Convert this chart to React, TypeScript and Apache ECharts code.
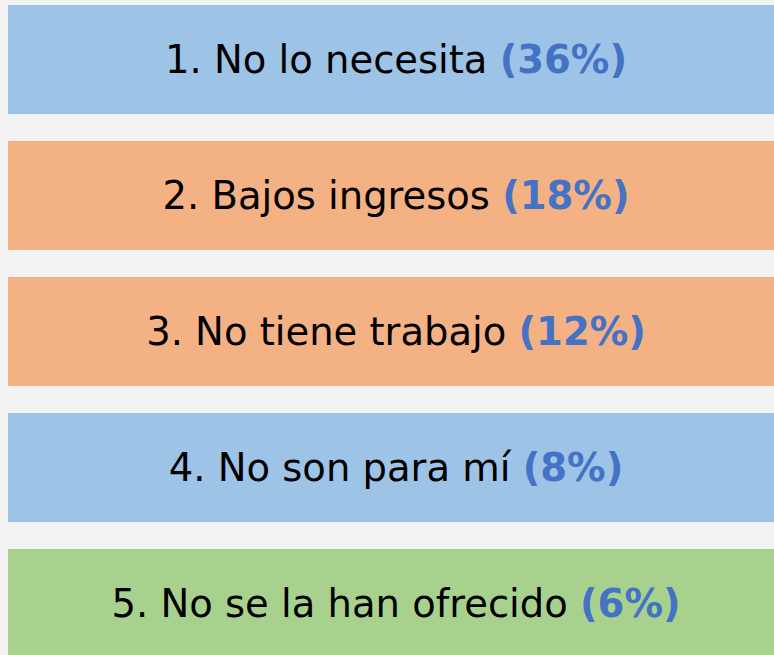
import React, { useEffect, useRef } from "react";
import * as echarts from "echarts";

const categories = [
  "1. No lo necesita",
  "2. Bajos ingresos",
  "3. No tiene trabajo",
  "4. No son para mí",
  "5. No se la han ofrecido",
];
const percents = [36, 18, 12, 8, 6];
const colors = ["#9DC3E6", "#F4B183", "#F4B183", "#9DC3E6", "#A9D18E"];

export default function App() {
  const ref = useRef<HTMLDivElement>(null);
  useEffect(() => {
    if (!ref.current) return;
    const chart = echarts.init(ref.current, null, { renderer: "svg" });
    chart.setOption({
      animation: false,
      backgroundColor: "#F2F2F2",
      grid: {
        left: 8,
        right: 0,
        top: -8.5,
        height: 680,
        outerBoundsMode: "none",
        containLabel: false,
      },
      xAxis: { type: "value", min: 0, max: 1, show: false },
      yAxis: {
        type: "category",
        data: categories,
        inverse: true,
        show: false,
      },
      series: [
        {
          type: "bar",
          barWidth: 109,
          data: categories.map((c, i) => ({
            value: 1,
            itemStyle: { color: colors[i] },
          })),
          label: {
            show: true,
            position: "inside",
            offset: [5, 0],
            formatter: (p: any) =>
              `{t|${categories[p.dataIndex]} }{p|(${percents[p.dataIndex]}%)}`,
            rich: {
              t: {
                fontFamily: "DejaVu Sans",
                fontSize: 38.5,
                color: "#000000",
              },
              p: {
                fontFamily: "DejaVu Sans",
                fontSize: 38.5,
                fontWeight: "bold",
                color: "#4472C4",
              },
            },
          },
        },
      ],
    });
    return () => chart.dispose();
  }, []);
  return (
    <div
      ref={ref}
      style={{ position: "fixed", left: 0, top: 0, width: 774, height: 655 }}
    />
  );
}
